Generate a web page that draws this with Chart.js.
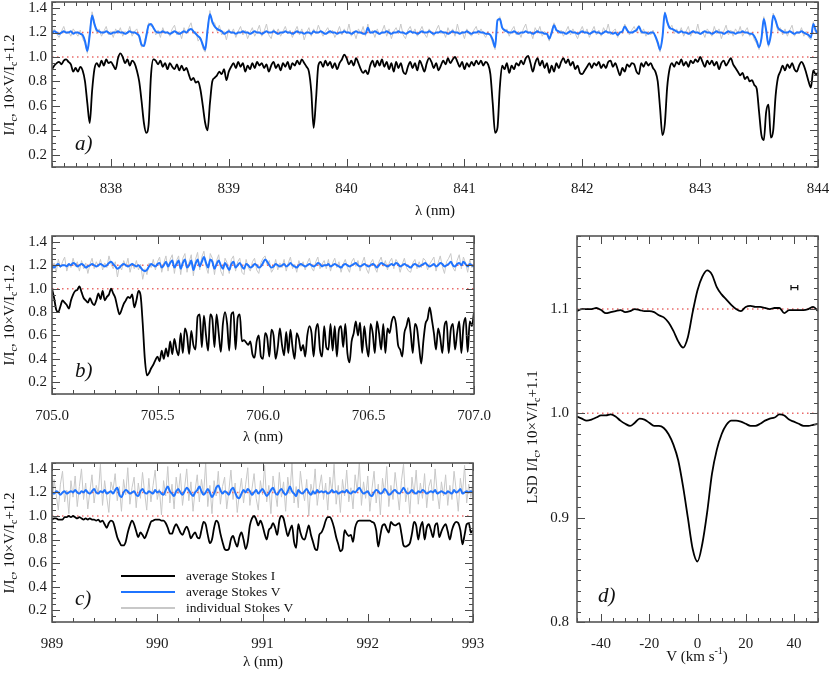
<!DOCTYPE html>
<html><head><meta charset="utf-8">
<script src="https://cdn.jsdelivr.net/npm/chart.js@4/dist/chart.umd.min.js"></script>
<style>
html,body{margin:0;padding:0;background:#fff;}
#wrap{position:relative;width:830px;height:673px;overflow:hidden;background:#fff;}
canvas{position:absolute;}
</style></head><body>
<div id="wrap">
<canvas id="cA" width="830" height="225" style="left:0;top:0;width:830px;height:225px"></canvas>
<canvas id="cB" width="500" height="225" style="left:0;top:225px;width:500px;height:225px"></canvas>
<canvas id="cC" width="500" height="223" style="left:0;top:450px;width:500px;height:223px"></canvas>
<canvas id="cD" width="330" height="448" style="left:500px;top:225px;width:330px;height:448px"></canvas>
</div>
<script>
// ---------- Panel a) 837.5 - 844 nm ----------
const lamA = [
837.50,837.52,837.54,837.56,837.58,837.60,837.62,837.64,837.66,837.68,
837.70,837.72,837.74,837.76,837.78,837.80,837.82,837.84,837.86,837.88,
837.90,837.92,837.94,837.96,837.98,838.00,838.02,838.04,838.06,838.08,
838.10,838.12,838.14,838.16,838.18,838.20,838.22,838.24,838.26,838.28,
838.30,838.32,838.34,838.36,838.38,838.40,838.42,838.44,838.46,838.48,
838.50,838.52,838.54,838.56,838.58,838.60,838.62,838.64,838.66,838.68,
838.70,838.72,838.74,838.76,838.78,838.80,838.82,838.84,838.86,838.88,
838.90,838.92,838.94,838.96,838.98,839.00,839.02,839.04,839.06,839.08,
839.10,839.12,839.14,839.16,839.18,839.20,839.22,839.24,839.26,839.28,
839.30,839.32,839.34,839.36,839.38,839.40,839.42,839.44,839.46,839.48,
839.50,839.52,839.54,839.56,839.58,839.60,839.62,839.64,839.66,839.68,
839.70,839.72,839.74,839.76,839.78,839.80,839.82,839.84,839.86,839.88,
839.90,839.92,839.94,839.96,839.98,840.00,840.02,840.04,840.06,840.08,
840.10,840.12,840.14,840.16,840.18,840.20,840.22,840.24,840.26,840.28,
840.30,840.32,840.34,840.36,840.38,840.40,840.42,840.44,840.46,840.48,
840.50,840.52,840.54,840.56,840.58,840.60,840.62,840.64,840.66,840.68,
840.70,840.72,840.74,840.76,840.78,840.80,840.82,840.84,840.86,840.88,
840.90,840.92,840.94,840.96,840.98,841.00,841.02,841.04,841.06,841.08,
841.10,841.12,841.14,841.16,841.18,841.20,841.22,841.24,841.26,841.28,
841.30,841.32,841.34,841.36,841.38,841.40,841.42,841.44,841.46,841.48,
841.50,841.52,841.54,841.56,841.58,841.60,841.62,841.64,841.66,841.68,
841.70,841.72,841.74,841.76,841.78,841.80,841.82,841.84,841.86,841.88,
841.90,841.92,841.94,841.96,841.98,842.00,842.02,842.04,842.06,842.08,
842.10,842.12,842.14,842.16,842.18,842.20,842.22,842.24,842.26,842.28,
842.30,842.32,842.34,842.36,842.38,842.40,842.42,842.44,842.46,842.48,
842.50,842.52,842.54,842.56,842.58,842.60,842.62,842.64,842.66,842.68,
842.70,842.72,842.74,842.76,842.78,842.80,842.82,842.84,842.86,842.88,
842.90,842.92,842.94,842.96,842.98,843.00,843.02,843.04,843.06,843.08,
843.10,843.12,843.14,843.16,843.18,843.20,843.22,843.24,843.26,843.28,
843.30,843.32,843.34,843.36,843.38,843.40,843.42,843.44,843.46,843.48,
843.50,843.52,843.54,843.56,843.58,843.60,843.62,843.64,843.66,843.68,
843.70,843.72,843.74,843.76,843.78,843.80,843.82,843.84,843.86,843.88,
843.90,843.92,843.94,843.96,843.98,844.00];
const stokesIA = [
0.90,0.93,0.95,0.96,0.94,0.97,0.98,0.96,0.94,0.88,
0.91,0.88,0.92,0.89,0.80,0.62,0.46,0.72,0.90,0.95,
0.92,0.97,0.93,0.98,0.95,0.96,0.93,0.90,0.99,1.03,
1.00,0.95,0.98,0.93,0.97,0.95,0.89,0.80,0.64,0.46,
0.38,0.45,0.85,0.98,0.97,0.94,0.97,0.92,0.95,0.90,
0.95,0.92,0.90,0.94,0.89,0.93,0.89,0.91,0.86,0.81,
0.83,0.79,0.80,0.73,0.60,0.46,0.40,0.62,0.80,0.83,
0.85,0.88,0.86,0.90,0.81,0.88,0.92,0.95,0.91,0.96,
0.92,0.95,0.88,0.93,0.90,0.95,0.91,0.96,0.93,0.95,
0.91,0.94,0.88,0.93,0.96,0.91,0.94,0.89,0.95,0.92,
0.96,0.90,0.95,0.93,0.97,0.94,0.98,0.95,0.92,0.88,
0.72,0.42,0.65,0.93,0.96,0.92,0.97,0.93,0.96,0.91,
0.95,0.90,0.95,0.98,1.02,0.99,0.94,0.97,0.93,0.99,
0.95,0.90,0.87,0.89,0.86,0.93,0.97,0.92,0.97,0.93,
0.98,0.92,0.96,0.90,0.95,0.88,0.96,0.91,0.95,0.88,
0.86,0.92,0.96,0.91,0.95,0.89,0.97,0.93,0.88,0.95,
0.99,0.96,0.91,0.95,0.89,0.93,0.97,0.94,0.99,0.95,
0.98,1.00,0.96,0.92,0.96,0.90,0.95,0.92,0.96,0.93,
0.97,0.94,0.97,0.93,0.96,0.94,0.86,0.62,0.38,0.42,
0.75,0.93,0.90,0.95,0.87,0.93,0.90,0.95,0.93,0.97,
0.94,0.99,1.01,0.95,0.88,0.95,0.99,0.93,0.97,0.91,
0.95,0.87,0.93,0.88,0.95,0.91,0.96,0.99,0.95,0.98,
0.93,0.96,0.90,0.93,0.87,0.86,0.89,0.92,0.95,0.91,
0.95,0.93,0.96,0.91,0.94,0.91,0.96,0.97,0.92,0.95,
0.90,0.85,0.91,0.88,0.94,0.92,0.95,0.94,0.88,0.86,
0.95,0.92,0.96,0.93,0.95,0.91,0.88,0.80,0.58,0.36,
0.45,0.75,0.90,0.95,0.92,0.96,0.94,0.98,0.93,0.96,
0.92,0.97,0.95,0.98,0.96,1.00,0.96,0.92,0.97,0.94,
0.97,0.93,0.96,0.90,0.95,0.97,0.93,0.96,0.99,0.94,
0.91,0.88,0.85,0.87,0.82,0.84,0.80,0.81,0.77,0.74,
0.55,0.36,0.32,0.55,0.61,0.34,0.40,0.68,0.83,0.88,
0.93,0.89,0.94,0.91,0.95,0.90,0.88,0.93,0.96,0.93,
0.87,0.80,0.75,0.89,0.86,0.87];
const stokesVA = [
1.20,1.21,1.20,1.19,1.20,1.21,1.20,1.20,1.21,1.19,
1.20,1.20,1.19,1.18,1.13,1.05,1.18,1.34,1.27,1.22,
1.21,1.20,1.20,1.21,1.20,1.19,1.20,1.20,1.21,1.20,
1.20,1.19,1.20,1.21,1.20,1.20,1.19,1.17,1.10,1.09,
1.17,1.26,1.27,1.24,1.21,1.20,1.20,1.21,1.20,1.20,
1.19,1.20,1.21,1.20,1.19,1.20,1.21,1.20,1.22,1.23,
1.21,1.19,1.17,1.15,1.10,1.06,1.22,1.35,1.29,1.25,
1.23,1.22,1.21,1.19,1.20,1.21,1.20,1.20,1.19,1.20,
1.20,1.21,1.20,1.20,1.19,1.20,1.21,1.20,1.20,1.19,
1.20,1.21,1.20,1.20,1.21,1.20,1.19,1.20,1.20,1.21,
1.20,1.20,1.19,1.20,1.21,1.20,1.20,1.19,1.20,1.20,
1.19,1.21,1.20,1.20,1.21,1.20,1.19,1.20,1.21,1.20,
1.20,1.19,1.20,1.20,1.21,1.20,1.20,1.19,1.20,1.21,
1.20,1.20,1.19,1.19,1.24,1.20,1.20,1.21,1.20,1.19,
1.20,1.20,1.21,1.20,1.19,1.20,1.20,1.21,1.20,1.20,
1.19,1.20,1.21,1.20,1.20,1.19,1.20,1.21,1.20,1.20,
1.21,1.20,1.19,1.20,1.20,1.21,1.20,1.20,1.19,1.20,
1.21,1.20,1.20,1.19,1.20,1.20,1.21,1.20,1.19,1.20,
1.20,1.21,1.20,1.20,1.19,1.19,1.18,1.14,1.08,1.30,
1.31,1.24,1.22,1.21,1.20,1.20,1.21,1.20,1.19,1.20,
1.20,1.21,1.20,1.20,1.19,1.20,1.21,1.20,1.20,1.19,
1.19,1.15,1.20,1.26,1.22,1.21,1.20,1.20,1.19,1.20,
1.21,1.20,1.20,1.19,1.20,1.21,1.20,1.20,1.19,1.20,
1.21,1.20,1.20,1.19,1.20,1.21,1.20,1.20,1.19,1.20,
1.18,1.20,1.21,1.25,1.22,1.20,1.20,1.21,1.22,1.25,
1.21,1.20,1.20,1.19,1.20,1.20,1.17,1.12,1.06,1.16,
1.36,1.29,1.24,1.23,1.22,1.21,1.20,1.21,1.20,1.20,
1.19,1.20,1.21,1.20,1.20,1.19,1.20,1.21,1.20,1.20,
1.19,1.20,1.21,1.20,1.20,1.19,1.20,1.21,1.20,1.20,
1.19,1.20,1.20,1.21,1.20,1.20,1.19,1.19,1.17,1.13,
1.08,1.15,1.31,1.22,1.10,1.18,1.34,1.30,1.24,1.22,
1.21,1.20,1.20,1.21,1.20,1.19,1.20,1.20,1.21,1.20,
1.19,1.18,1.16,1.27,1.22,1.19];
const indivVA = [
1.18,1.23,1.19,1.16,1.21,1.25,1.19,1.21,1.17,1.23,
1.20,1.17,1.22,1.15,1.11,1.03,1.21,1.37,1.29,1.19,
1.23,1.17,1.21,1.25,1.18,1.21,1.16,1.23,1.19,1.24,
1.17,1.21,1.19,1.25,1.17,1.21,1.23,1.15,1.08,1.11,
1.19,1.28,1.25,1.25,1.18,1.22,1.16,1.24,1.19,1.21,
1.17,1.23,1.26,1.18,1.21,1.15,1.24,1.19,1.24,1.28,
1.19,1.21,1.13,1.16,1.07,1.04,1.24,1.38,1.27,1.28,
1.21,1.26,1.18,1.21,1.14,1.23,1.19,1.23,1.16,1.21,
1.25,1.18,1.22,1.15,1.20,1.24,1.17,1.21,1.26,1.17,
1.21,1.27,1.18,1.15,1.23,1.19,1.23,1.17,1.21,1.25,
1.19,1.22,1.16,1.21,1.25,1.18,1.23,1.14,1.20,1.24,
1.17,1.23,1.19,1.26,1.21,1.17,1.21,1.24,1.19,1.22,
1.16,1.20,1.25,1.18,1.23,1.19,1.27,1.17,1.21,1.15,
1.23,1.19,1.25,1.17,1.27,1.19,1.22,1.16,1.23,1.18,
1.21,1.26,1.17,1.23,1.15,1.21,1.24,1.19,1.27,1.18,
1.15,1.22,1.25,1.19,1.23,1.17,1.21,1.25,1.19,1.16,
1.23,1.20,1.17,1.22,1.26,1.19,1.21,1.16,1.24,1.19,
1.23,1.17,1.27,1.19,1.21,1.15,1.23,1.19,1.17,1.22,
1.25,1.18,1.23,1.19,1.16,1.21,1.17,1.11,1.06,1.29,
1.33,1.25,1.20,1.23,1.17,1.22,1.25,1.18,1.21,1.16,
1.23,1.27,1.19,1.21,1.15,1.24,1.20,1.25,1.17,1.21,
1.18,1.13,1.22,1.28,1.23,1.19,1.22,1.17,1.21,1.25,
1.18,1.23,1.19,1.15,1.21,1.25,1.19,1.23,1.16,1.21,
1.25,1.18,1.22,1.17,1.24,1.20,1.27,1.18,1.21,1.23,
1.16,1.21,1.19,1.27,1.23,1.18,1.22,1.25,1.20,1.26,
1.19,1.23,1.17,1.21,1.18,1.22,1.16,1.10,1.04,1.17,
1.37,1.28,1.23,1.26,1.19,1.23,1.19,1.24,1.17,1.21,
1.25,1.17,1.22,1.19,1.27,1.18,1.21,1.16,1.23,1.20,
1.17,1.25,1.19,1.23,1.15,1.21,1.26,1.18,1.22,1.17,
1.23,1.19,1.25,1.17,1.21,1.24,1.17,1.20,1.14,1.11,
1.06,1.16,1.33,1.20,1.08,1.20,1.36,1.29,1.21,1.24,
1.18,1.23,1.17,1.22,1.26,1.17,1.21,1.19,1.24,1.17,
1.21,1.16,1.14,1.29,1.19,1.22];

// ---------- Panel b) 705 - 707 nm ----------
const lamB = [
705.00,705.01,705.02,705.03,705.04,705.05,705.06,705.07,705.08,705.09,
705.10,705.11,705.12,705.13,705.14,705.15,705.16,705.17,705.18,705.19,
705.20,705.21,705.22,705.23,705.24,705.25,705.26,705.27,705.28,705.29,
705.30,705.31,705.32,705.33,705.34,705.35,705.36,705.37,705.38,705.39,
705.40,705.41,705.42,705.43,705.44,705.45,705.46,705.47,705.48,705.49,
705.50,705.51,705.52,705.53,705.54,705.55,705.56,705.57,705.58,705.59,
705.60,705.61,705.62,705.63,705.64,705.65,705.66,705.67,705.68,705.69,
705.70,705.71,705.72,705.73,705.74,705.75,705.76,705.77,705.78,705.79,
705.80,705.81,705.82,705.83,705.84,705.85,705.86,705.87,705.88,705.89,
705.90,705.91,705.92,705.93,705.94,705.95,705.96,705.97,705.98,705.99,
706.00,706.01,706.02,706.03,706.04,706.05,706.06,706.07,706.08,706.09,
706.10,706.11,706.12,706.13,706.14,706.15,706.16,706.17,706.18,706.19,
706.20,706.21,706.22,706.23,706.24,706.25,706.26,706.27,706.28,706.29,
706.30,706.31,706.32,706.33,706.34,706.35,706.36,706.37,706.38,706.39,
706.40,706.41,706.42,706.43,706.44,706.45,706.46,706.47,706.48,706.49,
706.50,706.51,706.52,706.53,706.54,706.55,706.56,706.57,706.58,706.59,
706.60,706.61,706.62,706.63,706.64,706.65,706.66,706.67,706.68,706.69,
706.70,706.71,706.72,706.73,706.74,706.75,706.76,706.77,706.78,706.79,
706.80,706.81,706.82,706.83,706.84,706.85,706.86,706.87,706.88,706.89,
706.90,706.91,706.92,706.93,706.94,706.95,706.96,706.97,706.98,706.99,
707.00];
const stokesIB = [
1.00,0.92,0.82,0.80,0.85,0.90,0.88,0.86,0.83,0.90,
0.95,0.98,0.99,1.02,0.97,0.92,0.90,0.88,0.92,0.88,
0.86,0.90,0.96,0.91,0.98,0.90,0.93,0.95,1.00,0.96,
0.92,0.84,0.78,0.82,0.87,0.90,0.93,0.92,0.95,0.84,
0.90,0.98,0.94,0.70,0.40,0.26,0.28,0.32,0.35,0.39,
0.42,0.38,0.47,0.40,0.49,0.42,0.55,0.44,0.57,0.48,
0.43,0.62,0.45,0.66,0.60,0.44,0.64,0.52,0.48,0.76,
0.78,0.50,0.77,0.60,0.47,0.78,0.74,0.50,0.78,0.62,
0.46,0.70,0.80,0.70,0.47,0.78,0.80,0.48,0.75,0.78,
0.55,0.56,0.54,0.52,0.55,0.44,0.41,0.55,0.60,0.42,
0.40,0.62,0.58,0.42,0.65,0.60,0.40,0.50,0.66,0.52,
0.43,0.63,0.45,0.65,0.50,0.40,0.62,0.57,0.47,0.52,
0.42,0.60,0.68,0.62,0.42,0.64,0.70,0.48,0.42,0.68,
0.50,0.48,0.70,0.47,0.68,0.42,0.65,0.68,0.50,0.70,
0.45,0.37,0.55,0.62,0.72,0.60,0.71,0.45,0.68,0.52,
0.42,0.70,0.62,0.45,0.72,0.62,0.48,0.70,0.45,0.66,
0.62,0.72,0.76,0.70,0.52,0.48,0.42,0.62,0.68,0.75,
0.62,0.45,0.70,0.66,0.50,0.36,0.55,0.70,0.74,0.84,
0.74,0.62,0.48,0.66,0.58,0.45,0.68,0.72,0.45,0.65,
0.70,0.48,0.62,0.72,0.45,0.68,0.75,0.46,0.72,0.68,
0.80];
const stokesVB = [
1.19,1.18,1.20,1.21,1.19,1.20,1.20,1.19,1.21,1.20,
1.22,1.21,1.19,1.20,1.21,1.20,1.18,1.19,1.20,1.21,
1.20,1.19,1.20,1.21,1.20,1.19,1.20,1.22,1.23,1.21,
1.19,1.17,1.18,1.20,1.21,1.20,1.19,1.20,1.21,1.20,
1.19,1.20,1.18,1.16,1.15,1.16,1.19,1.21,1.20,1.19,
1.21,1.22,1.18,1.20,1.23,1.19,1.22,1.24,1.18,1.21,
1.24,1.17,1.22,1.25,1.18,1.20,1.24,1.16,1.21,1.25,
1.19,1.23,1.27,1.22,1.18,1.25,1.23,1.17,1.21,1.24,
1.20,1.17,1.22,1.19,1.16,1.21,1.23,1.18,1.20,1.22,
1.19,1.17,1.21,1.20,1.18,1.19,1.21,1.20,1.18,1.19,
1.22,1.25,1.23,1.20,1.18,1.19,1.21,1.20,1.19,1.20,
1.21,1.19,1.20,1.22,1.20,1.19,1.18,1.20,1.21,1.20,
1.19,1.20,1.21,1.20,1.19,1.20,1.22,1.21,1.19,1.20,
1.20,1.21,1.19,1.20,1.21,1.20,1.19,1.18,1.20,1.21,
1.20,1.19,1.20,1.21,1.22,1.20,1.19,1.20,1.21,1.20,
1.19,1.20,1.21,1.20,1.18,1.20,1.22,1.21,1.20,1.19,
1.20,1.21,1.20,1.22,1.21,1.19,1.20,1.21,1.20,1.19,
1.18,1.20,1.21,1.20,1.19,1.20,1.21,1.22,1.20,1.19,
1.20,1.21,1.19,1.20,1.22,1.21,1.19,1.20,1.21,1.23,
1.20,1.19,1.21,1.22,1.20,1.23,1.21,1.19,1.21,1.20,
1.19];
const indivVB = [
1.16,1.22,1.14,1.25,1.18,1.23,1.27,1.15,1.21,1.18,
1.26,1.19,1.23,1.15,1.24,1.17,1.22,1.13,1.21,1.26,
1.17,1.23,1.19,1.25,1.16,1.22,1.18,1.28,1.21,1.17,
1.23,1.10,1.20,1.16,1.24,1.19,1.26,1.14,1.22,1.17,
1.24,1.16,1.21,1.08,1.17,1.12,1.22,1.18,1.25,1.16,
1.23,1.27,1.14,1.22,1.28,1.15,1.25,1.29,1.13,1.24,
1.28,1.12,1.26,1.30,1.14,1.23,1.29,1.11,1.25,1.31,
1.16,1.27,1.32,1.19,1.13,1.30,1.26,1.12,1.24,1.29,
1.15,1.11,1.26,1.22,1.13,1.25,1.28,1.15,1.23,1.26,
1.14,1.12,1.25,1.18,1.15,1.23,1.26,1.16,1.13,1.22,
1.26,1.28,1.20,1.24,1.14,1.17,1.25,1.16,1.22,1.18,
1.25,1.15,1.22,1.27,1.17,1.21,1.14,1.24,1.19,1.23,
1.16,1.22,1.26,1.18,1.15,1.23,1.27,1.17,1.21,1.24,
1.17,1.25,1.15,1.22,1.26,1.18,1.23,1.14,1.21,1.25,
1.18,1.14,1.23,1.26,1.19,1.24,1.15,1.22,1.27,1.17,
1.13,1.22,1.25,1.18,1.14,1.23,1.27,1.19,1.24,1.16,
1.23,1.26,1.17,1.25,1.22,1.14,1.21,1.26,1.18,1.15,
1.14,1.22,1.25,1.17,1.23,1.18,1.26,1.24,1.16,1.21,
1.24,1.27,1.15,1.22,1.28,1.19,1.13,1.23,1.26,1.30,
1.18,1.15,1.24,1.29,1.17,1.27,1.22,1.14,1.25,1.18,
1.21];

// ---------- Panel c) 989 - 993 nm ----------
const lamC = [
989.00,989.02,989.04,989.06,989.08,989.10,989.12,989.14,989.16,989.18,
989.20,989.22,989.24,989.26,989.28,989.30,989.32,989.34,989.36,989.38,
989.40,989.42,989.44,989.46,989.48,989.50,989.52,989.54,989.56,989.58,
989.60,989.62,989.64,989.66,989.68,989.70,989.72,989.74,989.76,989.78,
989.80,989.82,989.84,989.86,989.88,989.90,989.92,989.94,989.96,989.98,
990.00,990.02,990.04,990.06,990.08,990.10,990.12,990.14,990.16,990.18,
990.20,990.22,990.24,990.26,990.28,990.30,990.32,990.34,990.36,990.38,
990.40,990.42,990.44,990.46,990.48,990.50,990.52,990.54,990.56,990.58,
990.60,990.62,990.64,990.66,990.68,990.70,990.72,990.74,990.76,990.78,
990.80,990.82,990.84,990.86,990.88,990.90,990.92,990.94,990.96,990.98,
991.00,991.02,991.04,991.06,991.08,991.10,991.12,991.14,991.16,991.18,
991.20,991.22,991.24,991.26,991.28,991.30,991.32,991.34,991.36,991.38,
991.40,991.42,991.44,991.46,991.48,991.50,991.52,991.54,991.56,991.58,
991.60,991.62,991.64,991.66,991.68,991.70,991.72,991.74,991.76,991.78,
991.80,991.82,991.84,991.86,991.88,991.90,991.92,991.94,991.96,991.98,
992.00,992.02,992.04,992.06,992.08,992.10,992.12,992.14,992.16,992.18,
992.20,992.22,992.24,992.26,992.28,992.30,992.32,992.34,992.36,992.38,
992.40,992.42,992.44,992.46,992.48,992.50,992.52,992.54,992.56,992.58,
992.60,992.62,992.64,992.66,992.68,992.70,992.72,992.74,992.76,992.78,
992.80,992.82,992.84,992.86,992.88,992.90,992.92,992.94,992.96,992.98,
993.00];
const stokesIC = [
0.97,0.98,0.98,0.97,0.97,0.97,0.99,0.99,1.00,0.99,
1.00,0.99,0.98,0.99,0.98,0.97,0.98,0.97,0.98,0.97,
0.97,0.96,0.97,0.95,0.96,0.93,0.90,0.94,0.96,0.95,
0.89,0.82,0.78,0.75,0.75,0.78,0.86,0.92,0.96,0.93,
0.87,0.82,0.86,0.84,0.81,0.85,0.90,0.95,0.96,0.97,
0.97,0.97,0.96,0.96,0.94,0.90,0.85,0.85,0.90,0.93,
0.90,0.86,0.84,0.88,0.91,0.87,0.81,0.84,0.86,0.82,
0.81,0.88,0.95,0.93,0.84,0.77,0.80,0.90,0.96,0.94,
0.85,0.78,0.72,0.71,0.72,0.80,0.83,0.78,0.74,0.82,
0.86,0.80,0.72,0.78,0.92,0.98,1.00,0.97,0.92,0.96,
0.92,0.85,0.80,0.88,0.90,0.94,0.90,0.84,0.96,1.00,
0.98,0.90,0.83,0.88,0.92,0.78,0.73,0.93,0.86,0.81,
0.80,0.86,0.92,0.84,0.78,0.72,0.71,0.84,0.86,0.90,
0.96,0.99,0.99,0.96,0.90,0.82,0.76,0.70,0.72,0.88,
0.85,0.83,0.84,0.78,0.90,0.95,0.96,0.96,0.96,0.96,
0.96,0.96,0.95,0.94,0.88,0.74,0.84,0.92,0.93,0.89,
0.86,0.95,0.93,0.92,0.93,0.94,0.85,0.75,0.74,0.75,
0.77,0.85,0.95,0.92,0.80,0.90,0.95,0.80,0.90,0.93,
0.88,0.82,0.92,0.94,0.82,0.87,0.91,0.93,0.87,0.80,
0.88,0.93,0.95,0.94,0.88,0.76,0.84,0.93,0.94,0.86,
0.88];
const stokesVC = [
1.20,1.19,1.21,1.20,1.18,1.20,1.21,1.19,1.20,1.21,
1.20,1.22,1.20,1.19,1.21,1.20,1.22,1.20,1.19,1.21,
1.23,1.20,1.19,1.21,1.20,1.22,1.19,1.20,1.21,1.19,
1.22,1.24,1.18,1.16,1.20,1.22,1.21,1.19,1.20,1.21,
1.18,1.17,1.21,1.23,1.20,1.19,1.21,1.20,1.19,1.22,
1.20,1.21,1.19,1.18,1.22,1.25,1.21,1.19,1.17,1.21,
1.23,1.20,1.18,1.21,1.24,1.22,1.19,1.17,1.20,1.22,
1.25,1.21,1.18,1.20,1.23,1.20,1.16,1.19,1.24,1.26,
1.22,1.19,1.21,1.20,1.18,1.22,1.24,1.20,1.16,1.15,
1.19,1.22,1.20,1.23,1.21,1.18,1.20,1.22,1.19,1.21,
1.23,1.20,1.17,1.19,1.22,1.24,1.20,1.18,1.21,1.23,
1.20,1.18,1.21,1.25,1.21,1.19,1.17,1.22,1.20,1.19,
1.21,1.23,1.20,1.18,1.21,1.19,1.22,1.20,1.21,1.20,
1.21,1.19,1.20,1.22,1.20,1.21,1.19,1.20,1.21,1.20,
1.22,1.20,1.19,1.21,1.20,1.22,1.24,1.21,1.19,1.20,
1.21,1.18,1.17,1.20,1.22,1.21,1.19,1.20,1.23,1.21,
1.18,1.19,1.21,1.22,1.20,1.19,1.21,1.24,1.21,1.19,
1.20,1.22,1.20,1.19,1.21,1.20,1.22,1.21,1.19,1.20,
1.21,1.20,1.22,1.19,1.20,1.21,1.20,1.19,1.21,1.20,
1.19,1.22,1.20,1.21,1.23,1.19,1.20,1.21,1.20,1.21,
1.20];
const indivVC = [
1.10,1.31,1.18,1.05,1.27,1.38,1.12,1.22,1.02,1.30,
1.16,1.34,1.08,1.25,1.40,1.14,1.28,1.06,1.21,1.35,
1.11,1.26,1.19,1.44,1.09,1.30,1.16,1.03,1.29,1.22,
1.36,1.13,1.25,1.04,1.31,1.18,1.41,1.10,1.24,1.33,
1.07,1.28,1.15,1.37,1.20,1.05,1.32,1.12,1.26,1.39,
1.14,1.23,1.01,1.30,1.17,1.42,1.11,1.27,1.06,1.33,
1.19,1.36,1.09,1.24,1.40,1.13,1.29,1.04,1.22,1.35,
1.12,1.31,1.18,1.45,1.08,1.26,1.02,1.30,1.17,1.38,
1.10,1.25,1.33,1.06,1.21,1.39,1.14,1.28,1.03,1.19,
1.32,1.11,1.27,1.41,1.09,1.23,1.36,1.15,1.05,1.30,
1.18,1.43,1.12,1.26,1.02,1.34,1.21,1.08,1.37,1.16,
1.29,1.04,1.33,1.19,1.45,1.11,1.25,1.07,1.38,1.22,
1.13,1.31,1.00,1.27,1.18,1.40,1.09,1.24,1.35,1.14,
1.28,1.05,1.33,1.20,1.44,1.10,1.26,1.03,1.31,1.17,
1.39,1.12,1.24,1.06,1.35,1.21,1.46,1.09,1.29,1.15,
1.34,1.04,1.23,1.38,1.11,1.27,1.01,1.32,1.19,1.42,
1.08,1.26,1.14,1.37,1.21,1.05,1.30,1.44,1.12,1.24,
1.02,1.33,1.18,1.39,1.10,1.28,1.15,1.36,1.07,1.25,
1.31,1.13,1.40,1.20,1.06,1.29,1.17,1.35,1.09,1.26,
1.14,1.38,1.22,1.04,1.32,1.19,1.43,1.11,1.27,1.16,
1.30];

// ---------- Panel d) LSD profiles ----------
const velD = [-50,-48,-46,-44,-42,-40,-38,-36,-34,-32,-30,-28,-26,-24,-22,-20,-18,-16,-14,-12,-10,-8,-6,-4,-2,
0,2,4,6,8,10,12,14,16,18,20,22,24,26,28,30,32,34,36,38,40,42,44,46,48,50];
const lsdI = [0.997,0.995,0.993,0.994,0.996,0.998,0.998,0.999,0.997,0.993,0.990,0.988,0.991,0.995,0.994,0.991,0.988,0.988,0.986,0.980,0.970,0.955,0.930,0.900,0.870,
0.858,0.875,0.905,0.942,0.965,0.980,0.989,0.993,0.993,0.992,0.990,0.988,0.988,0.990,0.993,0.995,0.996,0.999,0.998,0.994,0.992,0.990,0.988,0.988,0.989,0.990];
const lsdV = [1.098,1.100,1.100,1.100,1.101,1.099,1.096,1.097,1.098,1.099,1.097,1.098,1.100,1.099,1.098,1.098,1.097,1.094,1.092,1.087,1.079,1.069,1.063,1.073,1.097,
1.118,1.131,1.137,1.133,1.121,1.114,1.109,1.104,1.100,1.098,1.102,1.103,1.102,1.102,1.101,1.100,1.101,1.101,1.096,1.099,1.099,1.099,1.099,1.100,1.102,1.098];
const errVel = [38.8, 41.6];
const errLevel = 1.1205;
const errCap = [1.118, 1.123];

// ---------- ticks & levels ----------
const ticksXA = [838,839,840,841,842,843,844];
const ticksXB = [705.0,705.5,706.0,706.5,707.0];
const ticksXC = [989,990,991,992,993];
const ticksXD = [-40,-20,0,20,40];
const ticksYABC = [0.2,0.4,0.6,0.8,1.0,1.2,1.4];
const ticksYD = [0.8,0.9,1.0,1.1];
const levelsABC = [1.0, 1.2];
const levelsD = [1.0, 1.1];
const legendLabels = ['average Stokes I','average Stokes V','individual Stokes V'];

// ---------- styling ----------
const SERIF = '"Liberation Serif","Times New Roman","DejaVu Serif",serif';
const C_BLACK = '#000000', C_BLUE = '#1f74ff', C_GREY = '#c8c8c8', C_RED = '#ea6a6a';

function line(xs, ys, color, width, order, smooth) {
  return {data: xs.map((x, i) => ({x: x, y: ys[i]})), borderColor: color, borderWidth: width,
          order: order, pointRadius: 0, fill: false, tension: 0,
          cubicInterpolationMode: smooth ? 'monotone' : 'default'};
}
function levels(lv, x0, x1) {
  return lv.map(l => ({data: [{x: x0, y: l}, {x: x1, y: l}], borderColor: C_RED, borderWidth: 1.5,
    borderDash: [1.5, 3.5], order: 2, pointRadius: 0, fill: false}));
}

function drawRich(ctx, parts, cx, cy, size, rotate) {
  ctx.save();
  ctx.translate(cx, cy);
  if (rotate) ctx.rotate(-Math.PI / 2);
  let w = 0;
  parts.forEach(p => { ctx.font = (p.k ? Math.round(size * 0.68) : size) + 'px ' + SERIF; w += ctx.measureText(p.t).width; });
  let x = -w / 2;
  ctx.textBaseline = 'middle'; ctx.textAlign = 'left'; ctx.fillStyle = '#111';
  parts.forEach(p => {
    const fs = p.k ? Math.round(size * 0.68) : size;
    ctx.font = fs + 'px ' + SERIF;
    const dy = p.k === 'sub' ? size * 0.32 : (p.k === 'sup' ? -size * 0.36 : 0);
    ctx.fillText(p.t, x, dy);
    x += ctx.measureText(p.t).width;
  });
  ctx.restore();
}

const decoPlugin = {
  id: 'deco',
  afterDraw(chart, args, o) {
    const ctx = chart.ctx, a = chart.chartArea, xs = chart.scales.x, ys = chart.scales.y;
    ctx.save();
    ctx.strokeStyle = '#4a4a4a'; ctx.lineWidth = 1;
    const drawT = (scale, step, len, horiz) => {
      const k0 = Math.ceil(scale.min / step - 1e-6), k1 = Math.floor(scale.max / step + 1e-6);
      ctx.beginPath();
      for (let k = k0; k <= k1; k++) {
        const p = Math.round(scale.getPixelForValue(k * step)) + 0.5;
        if (horiz) { ctx.moveTo(p, a.bottom); ctx.lineTo(p, a.bottom - len); ctx.moveTo(p, a.top); ctx.lineTo(p, a.top + len); }
        else { ctx.moveTo(a.left, p); ctx.lineTo(a.left + len, p); ctx.moveTo(a.right, p); ctx.lineTo(a.right - len, p); }
      }
      ctx.stroke();
    };
    drawT(xs, o.xMinor, 4, true); drawT(xs, o.xMajor, 8, true);
    drawT(ys, o.yMinor, 4, false); drawT(ys, o.yMajor, 8, false);
    ctx.lineWidth = 1.6; ctx.strokeStyle = '#555';
    ctx.strokeRect(a.left, a.top, a.right - a.left, a.bottom - a.top);
    drawRich(ctx, o.yTitle, o.yTitlePos[0], o.yTitlePos[1], 15, true);
    drawRich(ctx, o.xTitle, o.xTitlePos[0], o.xTitlePos[1], 15, false);
    ctx.font = 'italic 21px ' + SERIF; ctx.fillStyle = '#111'; ctx.textBaseline = 'alphabetic'; ctx.textAlign = 'left';
    ctx.fillText(o.label, o.labelPos[0], o.labelPos[1]);
    if (o.legend) {
      const cols = [C_BLACK, C_BLUE, C_GREY];
      legendLabels.forEach((t, i) => {
        const y = o.legend.y + i * 16;
        ctx.strokeStyle = cols[i]; ctx.lineWidth = 2; ctx.setLineDash([]);
        ctx.beginPath(); ctx.moveTo(o.legend.x0, y); ctx.lineTo(o.legend.x1, y); ctx.stroke();
        ctx.fillStyle = '#111'; ctx.font = '13.5px ' + SERIF; ctx.textBaseline = 'middle';
        ctx.fillText(t, o.legend.tx, y);
      });
    }
    ctx.restore();
  }
};

function zeroPad(s) { s.paddingLeft = 0; s.paddingRight = 0; s.paddingTop = 0; s.paddingBottom = 0; }

function makeChart(id, c) {
  return new Chart(document.getElementById(id), {
    type: 'line',
    data: {datasets: c.datasets},
    options: {
      responsive: false, animation: false, events: [],
      layout: {padding: c.pad, autoPadding: false},
      plugins: {legend: {display: false}, tooltip: {enabled: false}, deco: c.deco},
      scales: {
        x: {type: 'linear', min: c.xr[0], max: c.xr[1],
            afterBuildTicks: ax => { ax.ticks = c.xTicks.map(v => ({value: v})); },
            afterFit: s => { s.height = c.xH; zeroPad(s); },
            grid: {display: false, drawTicks: false}, border: {display: false},
            ticks: {font: {family: SERIF, size: 15}, color: '#1a1a1a', padding: 13, maxRotation: 0, autoSkip: false,
                    callback: v => v.toFixed(c.xDec)}},
        y: {type: 'linear', min: c.yr[0], max: c.yr[1],
            afterBuildTicks: ax => { ax.ticks = c.yTicks.map(v => ({value: v})); },
            afterFit: s => { s.width = c.yW; zeroPad(s); },
            grid: {display: false, drawTicks: false}, border: {display: false},
            ticks: {font: {family: SERIF, size: 15}, color: '#1a1a1a', padding: c.yPad, autoSkip: false,
                    callback: v => v.toFixed(1)}}
      }
    },
    plugins: [decoPlugin]
  });
}

const yTitleABC = [{t: 'I/I'}, {t: 'c', k: 'sub'}, {t: ', 10×V/I'}, {t: 'c', k: 'sub'}, {t: '+1.2'}];
const lamTitle = [{t: 'λ (nm)'}];

makeChart('cA', {
  datasets: [line(lamA, stokesVA, C_BLUE, 2, 0, true), line(lamA, stokesIA, C_BLACK, 1.8, 1, true),
             ...levels(levelsABC, 837.5, 844), line(lamA, indivVA, C_GREY, 1, 3, false)],
  pad: {left: 0, top: 2, right: 12, bottom: 0}, xH: 58, yW: 52, yPad: 5,
  xr: [837.5, 844], yr: [0.1, 1.45], xTicks: ticksXA, yTicks: ticksYABC, xDec: 0,
  deco: {xMinor: 0.1, xMajor: 1, yMinor: 0.05, yMajor: 0.2, yTitle: yTitleABC, yTitlePos: [10, 85],
         xTitle: lamTitle, xTitlePos: [435, 211], label: 'a)', labelPos: [75, 150]}
});
makeChart('cB', {
  datasets: [line(lamB, stokesVB, C_BLUE, 2, 0, true), line(lamB, stokesIB, C_BLACK, 1.8, 1, true),
             ...levels(levelsABC, 705, 707), line(lamB, indivVB, C_GREY, 1, 3, false)],
  pad: {left: 0, top: 11, right: 26, bottom: 0}, xH: 56, yW: 52, yPad: 5,
  xr: [705, 707], yr: [0.1, 1.45], xTicks: ticksXB, yTicks: ticksYABC, xDec: 1,
  deco: {xMinor: 0.1, xMajor: 0.5, yMinor: 0.05, yMajor: 0.2, yTitle: yTitleABC, yTitlePos: [10, 90],
         xTitle: lamTitle, xTitlePos: [263, 212], label: 'b)', labelPos: [75, 152]}
});
makeChart('cC', {
  datasets: [line(lamC, stokesVC, C_BLUE, 2, 0, true), line(lamC, stokesIC, C_BLACK, 1.8, 1, true),
             ...levels(levelsABC, 989, 993), line(lamC, indivVC, C_GREY, 1, 3, false)],
  pad: {left: 0, top: 13, right: 27, bottom: 0}, xH: 51, yW: 52, yPad: 5,
  xr: [989, 993], yr: [0.1, 1.45], xTicks: ticksXC, yTicks: ticksYABC, xDec: 0,
  deco: {xMinor: 0.2, xMajor: 1, yMinor: 0.05, yMajor: 0.2, yTitle: yTitleABC, yTitlePos: [10, 93],
         xTitle: lamTitle, xTitlePos: [263, 212], label: 'c)', labelPos: [75, 155],
         legend: {x0: 121, x1: 175, tx: 186, y: 126}}
});
makeChart('cD', {
  datasets: [line(velD, lsdV, C_BLACK, 1.8, 0, true), line(velD, lsdI, C_BLACK, 1.8, 1, true),
             ...levels(levelsD, -50, 50),
             line(errVel, [errLevel, errLevel], C_BLACK, 1.2, 0, false),
             line([errVel[0], errVel[0]], errCap, C_BLACK, 1.2, 0, false),
             line([errVel[1], errVel[1]], errCap, C_BLACK, 1.2, 0, false)],
  pad: {left: 0, top: 11, right: 12, bottom: 0}, xH: 51, yW: 77, yPad: 8,
  xr: [-50, 50], yr: [0.8, 1.17], xTicks: ticksXD, yTicks: ticksYD, xDec: 0,
  deco: {xMinor: 5, xMajor: 20, yMinor: 0.01, yMajor: 0.1,
         yTitle: [{t: 'LSD I/I'}, {t: 'c', k: 'sub'}, {t: ', 10×V/I'}, {t: 'c', k: 'sub'}, {t: '+1.1'}], yTitlePos: [33, 212],
         xTitle: [{t: 'V (km s'}, {t: '-1', k: 'sup'}, {t: ')'}], xTitlePos: [197, 432], label: 'd)', labelPos: [98, 377]}
});
</script>
</body></html>
